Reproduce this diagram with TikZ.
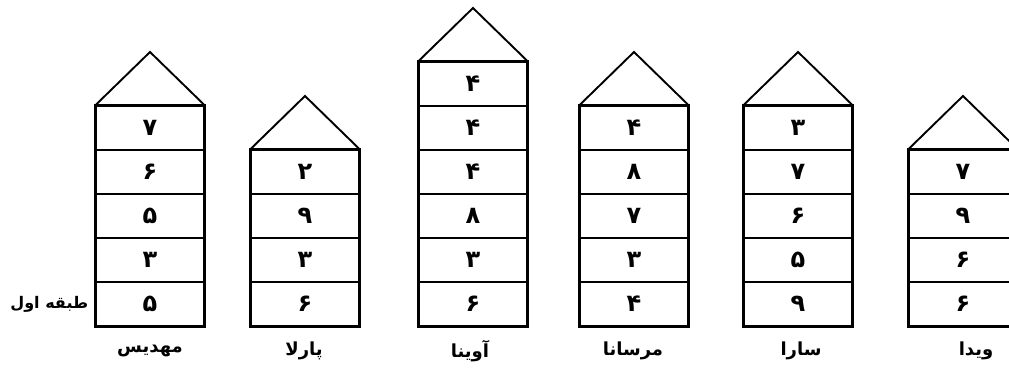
\documentclass[tikz,border=0pt]{standalone}
\usepackage{fontspec}
\TeXXeTstate=1
\newfontfamily\fa[Script=Arabic]{DejaVu Sans}
\begin{document}
\begin{tikzpicture}[x=1pt,y=-1pt,
  cell/.style={draw, line width=1.4pt, minimum width=108pt, minimum height=44pt, inner sep=0pt,
    font=\fa\bfseries\fontsize{24}{24}\selectfont},
  outer/.style={line width=2.2pt, line join=miter},
  roof/.style={line width=1.9pt, line join=miter},
  lbl/.style={font=\fa\bfseries\fontsize{18}{20}\selectfont, inner sep=0pt}]
\useasboundingbox (0,0) rectangle (1009,369);
\clip (0,0) rectangle (1009,369);
\foreach \n/\x/\top/\rows/\digits in {
  1/96/106/5/{۷,۶,۵,۳,۵},
  2/251/150/4/{۲,۹,۳,۶},
  3/419/62/6/{۴,۴,۴,۸,۳,۶},
  4/580/106/5/{۴,۸,۷,۳,۴},
  5/744/106/5/{۳,۷,۶,۵,۹},
  6/909/150/4/{۷,۹,۶,۶}}{
  \foreach \d [count=\j] in \digits {
    \node[cell] (b\n-\j) at ({\x+54},{\top+22+44*(\j-1)}) {\d};
  }
  \coordinate (apex\n) at ({\x+54},{\top-54});
  \draw[outer] (b\n-1.north west) rectangle (b\n-\rows.south east);
  \draw[roof] (b\n-1.north west) -- (apex\n) -- (b\n-1.north east);
}
\node[lbl] (n1) at (150,351) {\beginR مهدیس\endR};
\node[lbl] (n2) at (304,351) {\beginR پارلا\endR};
\node[lbl] (n3) at (470,351) {\beginR آوینا\endR};
\node[lbl] (n4) at (633,351) {\beginR مرسانا\endR};
\node[lbl] (n5) at (801,351) {\beginR سارا\endR};
\node[lbl] (n6) at (976,351) {\beginR ویدا\endR};
\node[lbl, font=\fa\bfseries\fontsize{16}{18}\selectfont, anchor=east] (first) at (b1-5.west) [xshift=-7pt] {\beginR طبقه اول\endR};
\end{tikzpicture}
\end{document}
